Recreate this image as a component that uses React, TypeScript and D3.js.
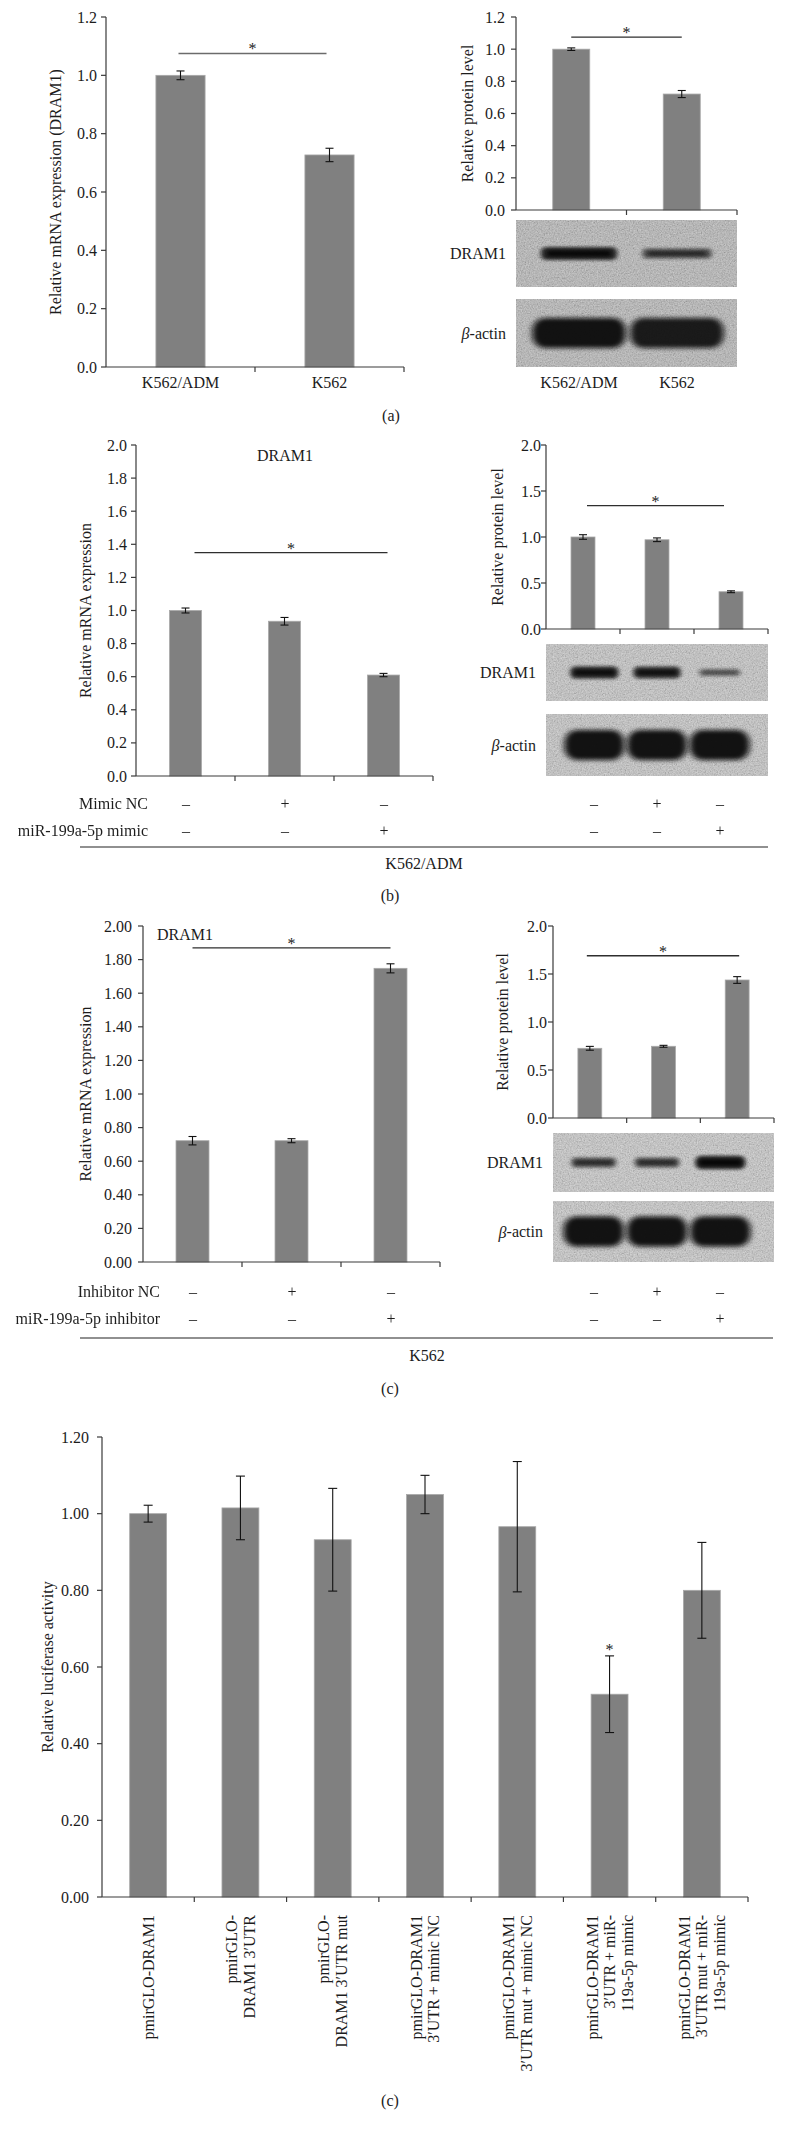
import React from 'react';
import * as d3 from 'd3';

const FONT = '"Liberation Serif", "Times New Roman", serif';
const INK = '#1c1c1c';
const BAR = '#808080';

// ---------- data ----------
const aCats = ['K562/ADM', 'K562'];
const aMrna = [1.0, 0.727];
const aMrnaErr = [0.015, 0.023];
const aProt = [1.0, 0.721];
const aProtErr = [0.008, 0.022];
const aDramBand = [0.9, 0.55];
const aActinBand = [1, 0.95];

const lanes3 = ['ctrl', 'nc', 'treat'];
const bMrna = [1.0, 0.935, 0.61];
const bMrnaErr = [0.015, 0.023, 0.01];
const bProt = [1.0, 0.97, 0.405];
const bProtErr = [0.025, 0.02, 0.01];
const bDramBand = [0.85, 0.8, 0.3];
const bActinBand = [1, 1, 1];
const bRows = [
  { label: 'Mimic NC', signs: ['–', '+', '–'] },
  { label: 'miR-199a-5p mimic', signs: ['–', '–', '+'] },
];

const cMrna = [0.722, 0.722, 1.748];
const cMrnaErr = [0.025, 0.012, 0.027];
const cProt = [0.726, 0.747, 1.4375];
const cProtErr = [0.02, 0.01, 0.035];
const cDramBand = [0.55, 0.55, 0.95];
const cActinBand = [1, 1, 1];
const cRows = [
  { label: 'Inhibitor NC', signs: ['–', '+', '–'] },
  { label: 'miR-199a-5p inhibitor', signs: ['–', '–', '+'] },
];

const dCats = [
  ['pmirGLO-DRAM1'],
  ['pmirGLO-', 'DRAM1 3′UTR'],
  ['pmirGLO-', 'DRAM1 3′UTR mut'],
  ['pmirGLO-DRAM1', '3′UTR + mimic NC'],
  ['pmirGLO-DRAM1', '3′UTR mut + mimic NC'],
  ['pmirGLO-DRAM1', '3′UTR + miR-', '119a-5p mimic'],
  ['pmirGLO-DRAM1', '3′UTR mut + miR-', '119a-5p mimic'],
];
const dValues = [1.0, 1.015, 0.932, 1.05, 0.966, 0.529, 0.8];
const dErr = [0.022, 0.083, 0.134, 0.05, 0.17, 0.1, 0.125];
const dStars = [false, false, false, false, false, true, false];

const ticks12 = [0, 0.2, 0.4, 0.6, 0.8, 1.0, 1.2];
const ticks20 = [0, 0.2, 0.4, 0.6, 0.8, 1.0, 1.2, 1.4, 1.6, 1.8, 2.0];
const ticks20half = [0, 0.5, 1.0, 1.5, 2.0];

type Frame = { left: number; right: number; top: number; bottom: number };

interface BarProps {
  frame: Frame;
  yMax: number;
  yTicks: number[];
  fmt: string;
  cats: string[];
  values: number[];
  errors: number[];
  barFrac: number;
  capW?: number;
  yLabel: string;
  yLabelX: number;
  tickGap: number;
  sig?: { level: number; from: number; to: number; dx?: [number, number]; color?: string; width?: number };
  xLabels?: string[];
  xLabelY?: number;
  stars?: boolean[];
}

function BarChart(p: BarProps) {
  const { frame } = p;
  const y = d3.scaleLinear().domain([0, p.yMax]).range([frame.bottom, frame.top]);
  const x = d3.scaleBand<string>().domain(p.cats).range([frame.left, frame.right]);
  const bw = x.bandwidth();
  const barW = bw * p.barFrac;
  const fmt = d3.format(p.fmt);
  const cx = (i: number) => (x(p.cats[i]) ?? 0) + bw / 2;
  const cap = (p.capW ?? 8) / 2;

  return (
    <g fontFamily={FONT}>
      {/* bars */}
      {p.values.map((v, i) => (
        <rect
          key={`b${i}`}
          x={cx(i) - barW / 2}
          y={y(v)}
          width={barW}
          height={y(0) - y(v)}
          fill={BAR}
          stroke="#a8a8a8"
          strokeWidth={0.8}
        />
      ))}
      {/* error bars */}
      {p.values.map((v, i) => {
        const e = p.errors[i];
        const x0 = cx(i);
        return (
          <g key={`e${i}`} stroke="#111" strokeWidth={1.1}>
            <line x1={x0} x2={x0} y1={y(v - e)} y2={y(v + e)} />
            <line x1={x0 - cap} x2={x0 + cap} y1={y(v + e)} y2={y(v + e)} />
            <line x1={x0 - cap} x2={x0 + cap} y1={y(v - e)} y2={y(v - e)} />
          </g>
        );
      })}
      {/* stars over single bars */}
      {p.stars &&
        p.stars.map((s, i) =>
          s ? (
            <text key={`s${i}`} x={cx(i)} y={y(p.values[i] + p.errors[i]) - 1} textAnchor="middle" fontSize={16} fill={INK}>
              *
            </text>
          ) : null
        )}
      {/* axes */}
      <line x1={frame.left} x2={frame.left} y1={frame.top} y2={frame.bottom} stroke="#3a3a3a" strokeWidth={1.2} />
      <line x1={frame.left} x2={frame.right} y1={frame.bottom} y2={frame.bottom} stroke="#3a3a3a" strokeWidth={1.2} />
      {p.cats.map((c, i) => {
        const xt = frame.left + (i + 1) * bw;
        return <line key={`xt${i}`} x1={xt} x2={xt} y1={frame.bottom} y2={frame.bottom + 5} stroke="#3a3a3a" strokeWidth={1.2} />;
      })}
      {p.yTicks.map((t) => (
        <g key={`yt${t}`}>
          <line x1={frame.left - 5} x2={frame.left} y1={y(t)} y2={y(t)} stroke="#3a3a3a" strokeWidth={1.2} />
          <text x={frame.left - p.tickGap} y={y(t)} textAnchor="end" dominantBaseline="central" fontSize={16} fill={INK}>
            {fmt(t)}
          </text>
        </g>
      ))}
      {/* y label */}
      <text
        transform={`translate(${p.yLabelX},${(frame.top + frame.bottom) / 2}) rotate(-90)`}
        textAnchor="middle"
        dominantBaseline="central"
        fontSize={16}
        fill={INK}
      >
        {p.yLabel}
      </text>
      {/* significance */}
      {p.sig && (() => {
        const s = p.sig!;
        const ly = y(s.level);
        const x1 = cx(s.from) + (s.dx ? s.dx[0] : 0);
        const x2 = cx(s.to) + (s.dx ? s.dx[1] : 0);
        return (
          <g>
            <line x1={x1} x2={x2} y1={ly} y2={ly} stroke={s.color ?? '#2e2e2e'} strokeWidth={s.width ?? 1.3} />
            <text x={(x1 + x2) / 2} y={ly + 1} textAnchor="middle" fontSize={16} fill={INK}>
              *
            </text>
          </g>
        );
      })()}
      {/* category labels */}
      {p.xLabels &&
        p.xLabels.map((l, i) => (
          <text key={`xl${i}`} x={cx(i)} y={p.xLabelY} textAnchor="middle" dominantBaseline="central" fontSize={16} fill={INK}>
            {l}
          </text>
        ))}
    </g>
  );
}

interface BlotProps {
  frame: Frame;
  lanes: [number, number];
  levels: number[];
  thick: boolean;
  bg: string;
  label: React.ReactNode;
}

function Blot({ frame, lanes, levels, thick, bg, label }: BlotProps) {
  const lane = d3.scaleBand<number>().domain(d3.range(levels.length)).range(lanes);
  const lw = lane.bandwidth();
  const cy = (frame.top + frame.bottom) / 2;
  const w = frame.right - frame.left;
  const h = frame.bottom - frame.top;
  return (
    <g>
      <rect x={frame.left} y={frame.top} width={w} height={h} fill={bg} />
      <rect x={frame.left} y={frame.top} width={w} height={h} fill="#fff" opacity={0.45} filter="url(#grain)" />
      {levels.map((v, i) => {
        const c = (lane(i) ?? 0) + lw / 2;
        const bwid = thick ? lw * 0.95 : lw * (0.6 + 0.2 * v);
        const bh = thick ? 30 : 5 + 9 * v;
        return (
          <g key={i}>
            <rect
              x={c - bwid / 2}
              y={cy - bh / 2}
              width={bwid}
              height={bh}
              rx={bh / 2.4}
              fill="#0a0a0a"
              opacity={thick ? 0.97 * v : 0.2 + 0.7 * v}
              filter={thick ? 'url(#soft)' : 'url(#softThin)'}
            />
            {!thick && (
              <rect
                x={c - bwid * 0.42}
                y={cy - bh * 0.22}
                width={bwid * 0.84}
                height={bh * 0.44}
                rx={bh * 0.2}
                fill="#050505"
                opacity={0.15 + 0.7 * v}
                filter="url(#softThin)"
              />
            )}
          </g>
        );
      })}
      <text x={frame.left - 10} y={cy} textAnchor="end" dominantBaseline="central" fontFamily={FONT} fontSize={16} fill={INK}>
        {label}
      </text>
    </g>
  );
}

const actinLabel = (
  <>
    <tspan fontStyle="italic">β</tspan>-actin
  </>
);

function SignRows({ rows, labelX, cols, ys }: { rows: { label: string; signs: string[] }[]; labelX: number; cols: number[]; ys: number[] }) {
  return (
    <g fontFamily={FONT} fontSize={16} opacity={0.99}>
      {rows.map((r, ri) => (
        <g key={ri}>
          {labelX > 0 && (
            <text x={labelX} y={ys[ri]} textAnchor="end" dominantBaseline="central" fill={INK}>
              {r.label}
            </text>
          )}
          {r.signs.map((s, si) => (
            <text key={si} x={Math.round(cols[si])} y={ys[ri]} textAnchor="middle" dominantBaseline="central" fill={INK}>
              {s}
            </text>
          ))}
        </g>
      ))}
    </g>
  );
}

export default function App() {
  // lane centres for sign columns (follow the bar bands / blot lanes)
  const band3 = (r: [number, number]) => {
    const s = d3.scaleBand<string>().domain(lanes3).range(r);
    return lanes3.map((l) => (s(l) ?? 0) + s.bandwidth() / 2);
  };

  const dX = d3.scaleBand<number>().domain(d3.range(dCats.length)).range([102, 748]);

  return (
    <div style={{ position: 'absolute', left: 0, top: 0 }}>
      <svg width={785} height={2133} style={{ display: 'block', background: '#fff' }}>
        <defs>
          <filter id="grain" x="0" y="0" width="100%" height="100%">
            <feTurbulence type="fractalNoise" baseFrequency="0.75" numOctaves={2} seed={4} result="n" />
            <feColorMatrix
              in="n"
              type="matrix"
              values="0.6 0.6 0 0 -0.1  0.6 0.6 0 0 -0.1  0.6 0.6 0 0 -0.1  0 0 0 0 1"
              result="g"
            />
            <feComposite in="g" in2="SourceGraphic" operator="in" />
          </filter>
          <filter id="soft" x="-30%" y="-100%" width="160%" height="300%">
            <feGaussianBlur stdDeviation="3 2.2" />
          </filter>
          <filter id="softThin" x="-30%" y="-150%" width="160%" height="400%">
            <feGaussianBlur stdDeviation="2.2 1.6" />
          </filter>
        </defs>

        {/* ---------- (a) ---------- */}
        <BarChart
          frame={{ left: 106, right: 404, top: 17, bottom: 367 }}
          yMax={1.2}
          yTicks={ticks12}
          fmt=".1f"
          cats={aCats}
          values={aMrna}
          errors={aMrnaErr}
          barFrac={0.33}
          yLabel="Relative mRNA expression (DRAM1)"
          yLabelX={55}
          tickGap={9}
          sig={{ level: 1.075, from: 0, to: 1, dx: [-2, -3], color: '#6b6b6b', width: 1.6 }}
          xLabels={aCats}
          xLabelY={382}
        />
        <BarChart
          frame={{ left: 516, right: 737, top: 17, bottom: 210 }}
          yMax={1.2}
          yTicks={ticks12}
          fmt=".1f"
          cats={aCats}
          values={aProt}
          errors={aProtErr}
          barFrac={0.335}
          yLabel="Relative protein level"
          yLabelX={467}
          tickGap={11}
          sig={{ level: 1.075, from: 0, to: 1 }}
        />
        <Blot frame={{ left: 516, right: 737, top: 220, bottom: 287 }} lanes={[530, 726]} levels={aDramBand} thick={false} bg="#b2b2b2" label="DRAM1" />
        <Blot frame={{ left: 516, right: 737, top: 299, bottom: 367 }} lanes={[530, 726]} levels={aActinBand} thick bg="#b2b2b2" label={actinLabel} />
        {(() => {
          const s = d3.scaleBand<string>().domain(aCats).range([530, 726]);
          return aCats.map((c) => (
            <text key={c} x={(s(c) ?? 0) + s.bandwidth() / 2} y={382} textAnchor="middle" dominantBaseline="central" fontFamily={FONT} fontSize={16} fill={INK}>
              {c}
            </text>
          ));
        })()}
        <text x={391} y={415} textAnchor="middle" dominantBaseline="central" fontFamily={FONT} fontSize={16} fill={INK}>
          (a)
        </text>

        {/* ---------- (b) ---------- */}
        <BarChart
          frame={{ left: 136, right: 433, top: 445, bottom: 776 }}
          yMax={2.0}
          yTicks={ticks20}
          fmt=".1f"
          cats={lanes3}
          values={bMrna}
          errors={bMrnaErr}
          barFrac={0.323}
          yLabel="Relative mRNA expression"
          yLabelX={85}
          tickGap={9}
          sig={{ level: 1.35, from: 0, to: 2, dx: [9, 4] }}
        />
        <text x={285} y={455} textAnchor="middle" dominantBaseline="central" fontFamily={FONT} fontSize={16} fill={INK}>
          DRAM1
        </text>
        <BarChart
          frame={{ left: 546, right: 768, top: 445, bottom: 629 }}
          yMax={2.0}
          yTicks={ticks20half}
          fmt=".1f"
          cats={lanes3}
          values={bProt}
          errors={bProtErr}
          barFrac={0.324}
          yLabel="Relative protein level"
          yLabelX={497}
          tickGap={5}
          sig={{ level: 1.34, from: 0, to: 2, dx: [4, -7] }}
        />
        <Blot frame={{ left: 546, right: 768, top: 644, bottom: 701 }} lanes={[563, 751]} levels={bDramBand} thick={false} bg="#c4c4c4" label="DRAM1" />
        <Blot frame={{ left: 546, right: 768, top: 714, bottom: 776 }} lanes={[563, 751]} levels={bActinBand} thick bg="#c4c4c4" label={actinLabel} />
        <SignRows rows={bRows} labelX={148} cols={band3([136, 433])} ys={[803, 830]} />
        <SignRows rows={bRows} labelX={0} cols={band3([563, 751])} ys={[803, 830]} />
        <line x1={80} x2={768} y1={847} y2={847} stroke="#222" strokeWidth={1.2} />
        <text x={424} y={863} textAnchor="middle" dominantBaseline="central" fontFamily={FONT} fontSize={16} fill={INK}>
          K562/ADM
        </text>
        <text x={390} y={895} textAnchor="middle" dominantBaseline="central" fontFamily={FONT} fontSize={16} fill={INK}>
          (b)
        </text>

        {/* ---------- (c) ---------- */}
        <BarChart
          frame={{ left: 143, right: 440, top: 926, bottom: 1262 }}
          yMax={2.0}
          yTicks={ticks20}
          fmt=".2f"
          cats={lanes3}
          values={cMrna}
          errors={cMrnaErr}
          barFrac={0.333}
          yLabel="Relative mRNA expression"
          yLabelX={85}
          tickGap={11}
          sig={{ level: 1.87, from: 0, to: 2 }}
        />
        <text x={157} y={934} textAnchor="start" dominantBaseline="central" fontFamily={FONT} fontSize={16} fill={INK}>
          DRAM1
        </text>
        <BarChart
          frame={{ left: 553, right: 774, top: 926, bottom: 1118 }}
          yMax={2.0}
          yTicks={ticks20half}
          fmt=".1f"
          cats={lanes3}
          values={cProt}
          errors={cProtErr}
          barFrac={0.324}
          yLabel="Relative protein level"
          yLabelX={502}
          tickGap={6}
          sig={{ level: 1.69, from: 0, to: 2, dx: [-3, 2] }}
        />
        <Blot frame={{ left: 553, right: 774, top: 1133, bottom: 1192 }} lanes={[562, 752]} levels={cDramBand} thick={false} bg="#c8c8c8" label="DRAM1" />
        <Blot frame={{ left: 553, right: 774, top: 1201, bottom: 1262 }} lanes={[562, 752]} levels={cActinBand} thick bg="#c8c8c8" label={actinLabel} />
        <SignRows rows={cRows} labelX={160} cols={band3([143, 440])} ys={[1291, 1318]} />
        <SignRows rows={cRows} labelX={0} cols={band3([562, 752])} ys={[1291, 1318]} />
        <line x1={80} x2={773} y1={1338} y2={1338} stroke="#222" strokeWidth={1.2} />
        <text x={427} y={1355} textAnchor="middle" dominantBaseline="central" fontFamily={FONT} fontSize={16} fill={INK}>
          K562
        </text>
        <text x={390} y={1388} textAnchor="middle" dominantBaseline="central" fontFamily={FONT} fontSize={16} fill={INK}>
          (c)
        </text>

        {/* ---------- luciferase ---------- */}
        <BarChart
          frame={{ left: 102, right: 748, top: 1437, bottom: 1897 }}
          yMax={1.2}
          yTicks={ticks12}
          fmt=".2f"
          cats={dCats.map((c) => c.join(' '))}
          values={dValues}
          errors={dErr}
          barFrac={0.4}
          capW={9}
          yLabel="Relative luciferase activity"
          yLabelX={47}
          tickGap={13}
          stars={dStars}
        />
        <g fontFamily={FONT} fontSize={16} fill={INK}>
          {dCats.map((lines, i) => {
            const c = (dX(i) ?? 0) + dX.bandwidth() / 2;
            return lines.map((ln, j) => (
              <text
                key={`${i}-${j}`}
                transform={`translate(${c + (j - (lines.length - 1) / 2) * 17.5},1915) rotate(-90)`}
                textAnchor="end"
                dominantBaseline="central"
              >
                {ln}
              </text>
            ));
          })}
        </g>
        <text x={390} y={2100} textAnchor="middle" dominantBaseline="central" fontFamily={FONT} fontSize={16} fill={INK}>
          (c)
        </text>
      </svg>
    </div>
  );
}
